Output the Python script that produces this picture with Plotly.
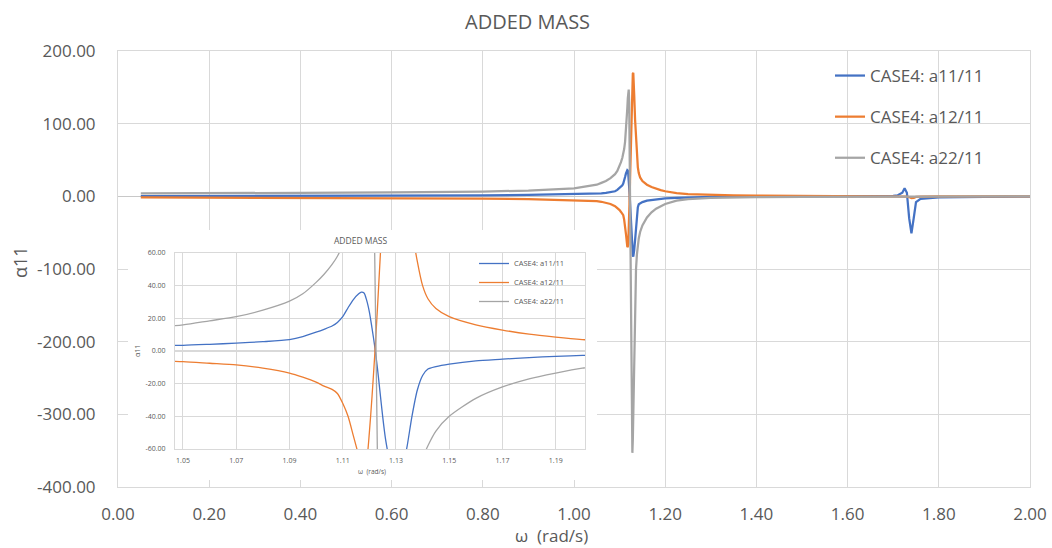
import plotly.graph_objects as go

# Frequency grid (rad/s) and the three added-mass ratios sampled on it
omega = [0.05, 0.20, 0.40, 0.60, 0.80, 0.90, 1.00, 1.03, 1.05, 1.06, 1.07, 1.08,
         1.09, 1.095, 1.10, 1.103, 1.106, 1.108, 1.110, 1.112, 1.114, 1.116,
         1.117, 1.118, 1.119, 1.120, 1.121, 1.122, 1.123, 1.124, 1.125, 1.126,
         1.127, 1.128, 1.129, 1.130, 1.131, 1.132, 1.134, 1.136, 1.138, 1.140,
         1.142, 1.145, 1.150, 1.160, 1.170, 1.180, 1.190, 1.200, 1.225, 1.25,
         1.30, 1.35, 1.40, 1.50, 1.60, 1.65, 1.70, 1.71, 1.72, 1.725, 1.73,
         1.735, 1.74, 1.745, 1.75, 1.76, 1.78, 1.80, 1.90, 2.00]

a11 = [0.3, 0.4, 0.6, 0.9, 1.4, 2.0, 2.7, 3.2, 3.5, 4.1, 4.8, 5.7,
       7.0, 8.8, 11.5, 13.3, 15.3, 17.5, 21.0, 26.5, 31.5, 35.0,
       36.0, 35.5, 31.0, 24.0, 14.0, 3.0, -10.0, -25.0, -40.0, -53.0,
       -63.0, -74.0, -81.0, -83.0, -80.0, -74.0, -60.0, -40.0, -24.0, -15.0,
       -11.0, -9.5, -8.0, -6.0, -5.0, -4.0, -3.3, -2.7, -2.0, -1.4,
       -0.8, -0.5, -0.4, -0.3, -0.3, -0.2, 0.5, 1.5, 5.0, 11.0, 5.0,
       -30.0, -51.0, -30.0, -8.0, -3.5, -2.0, -1.4, -0.7, -0.4]

a12 = [-1.5, -1.6, -1.8, -2.2, -3.0, -4.0, -5.0, -5.8, -6.5, -7.5, -8.5, -10.5,
       -13.5, -16.0, -19.0, -21.5, -23.5, -26.0, -32.0, -40.0, -52.0, -64.0,
       -70.0, -69.0, -66.0, -50.0, -28.0, -3.0, 25.0, 55.0, 85.0, 115.0,
       140.0, 160.0, 169.0, 170.0, 160.0, 140.0, 105.0, 75.0, 55.0, 40.0,
       32.0, 26.0, 21.0, 16.0, 12.8, 10.3, 8.5, 7.0, 4.5, 3.2,
       2.0, 1.4, 1.0, 0.6, 0.4, 0.3, 0.2, 0.2, 0.1, 0.0, -0.3,
       -1.0, -2.5, -2.0, -0.8, -0.3, -0.1, 0.0, 0.0, 0.0]

a22 = [4.0, 4.2, 4.6, 5.3, 6.5, 8.0, 11.0, 13.5, 16.0, 18.5, 21.0, 25.0,
       30.5, 35.0, 42.0, 47.0, 53.0, 58.0, 65.0, 75.0, 90.0, 110.0,
       122.0, 135.0, 145.0, 147.0, 130.0, 60.0, -60.0, -150.0, -250.0, -320.0,
       -345.0, -353.0, -335.0, -295.0, -245.0, -200.0, -140.0, -100.0, -80.0, -66.0,
       -58.0, -49.0, -40.0, -29.0, -22.0, -17.0, -13.5, -10.5, -6.0, -4.0,
       -2.2, -1.5, -1.0, -0.6, -0.4, -0.3, -0.3, -0.3, -0.3, -0.3, -0.3,
       -0.3, -0.3, -0.3, -0.3, -0.2, -0.2, -0.2, -0.1, -0.1]

names = ["CASE4: a11/11", "CASE4: a12/11", "CASE4: a22/11"]
colors = ["#4472C4", "#ED7D31", "#A5A5A5"]
series = [a11, a12, a22]

# Axis ticks (main chart and zoomed view)
main_x_ticks = [0.0, 0.2, 0.4, 0.6, 0.8, 1.0, 1.2, 1.4, 1.6, 1.8, 2.0]
main_y_ticks = [-400, -300, -200, -100, 0, 100, 200]
zoom_x_ticks = [1.05, 1.07, 1.09, 1.11, 1.13, 1.15, 1.17, 1.19]
zoom_y_ticks = [-60, -40, -20, 0, 20, 40, 60]


def fmt(values):
    return [f"{v:.2f}" for v in values]


W, H = 1052, 548
FONT = "Open Sans"
TXT = "#595959"
GRID = "#d9d9d9"


def px_x(p):
    return p / W


def px_y(p):
    return 1 - p / H


fig = go.Figure()

# Main chart traces
for name, col, ys in zip(names, colors, series):
    fig.add_trace(go.Scatter(
        x=omega, y=ys, mode="lines", name=name,
        line=dict(color=col, width=2.25),
        legendgroup=name, legend="legend",
        xaxis="x", yaxis="y",
    ))

# Placeholder subplot that carries the white backing panel of the zoomed view
fig.add_trace(go.Scatter(x=[None], y=[None], xaxis="x2", yaxis="y2",
                         showlegend=False, hoverinfo="skip"))

# Zoomed view around the resonance
for name, col, ys in zip(names, colors, series):
    fig.add_trace(go.Scatter(
        x=omega, y=ys, mode="lines", name=name,
        line=dict(color=col, width=1.3, shape="spline", smoothing=0.7),
        legend="legend2",
        xaxis="x3", yaxis="y3",
    ))

fig.add_shape(type="rect", xref="x2", yref="y2", x0=0, x1=1, y0=0, y1=1,
              fillcolor="white", line=dict(width=0), layer="below")

fig.update_layout(
    width=W, height=H,
    margin=dict(l=0, r=0, t=0, b=0, pad=0, autoexpand=False),
    paper_bgcolor="white", plot_bgcolor="white",
    font=dict(family=FONT, color=TXT),
    showlegend=True,
    xaxis=dict(
        domain=[px_x(118), px_x(1030)], range=[0, 2],
        tickvals=main_x_ticks, ticktext=fmt(main_x_ticks),
        showgrid=True, gridcolor=GRID, gridwidth=1,
        zeroline=False, showline=True, linecolor=GRID, mirror=True,
        tickfont=dict(size=17, color=TXT), ticks="", ticklabelstandoff=12,
        anchor="y", automargin=False,
    ),
    yaxis=dict(
        domain=[px_y(487), px_y(51)], range=[-400, 200],
        tickvals=main_y_ticks, ticktext=fmt(main_y_ticks),
        showgrid=True, gridcolor=GRID, gridwidth=1,
        zeroline=True, zerolinecolor="#c8c8c8", zerolinewidth=1.3,
        showline=True, linecolor=GRID, mirror=True,
        tickfont=dict(size=17, color=TXT), ticks="", ticklabelstandoff=18,
        anchor="x", automargin=False,
    ),
    xaxis2=dict(domain=[px_x(128), px_x(597)], range=[0, 1], visible=False,
                anchor="y2", automargin=False),
    yaxis2=dict(domain=[px_y(480), px_y(230)], range=[0, 1], visible=False,
                anchor="x2", automargin=False),
    xaxis3=dict(
        domain=[px_x(175), px_x(585)], range=[1.047, 1.201],
        tickvals=zoom_x_ticks, ticktext=fmt(zoom_x_ticks),
        showgrid=True, gridcolor=GRID,
        zeroline=False, showline=True, linecolor=GRID, mirror=True,
        tickfont=dict(size=7, color=TXT), ticks="", ticklabelstandoff=5,
        anchor="y3", automargin=False,
    ),
    yaxis3=dict(
        domain=[px_y(449), px_y(253)], range=[-60, 60],
        tickvals=zoom_y_ticks, ticktext=fmt(zoom_y_ticks),
        showgrid=True, gridcolor=GRID,
        zeroline=True, zerolinecolor=GRID, showline=True, linecolor=GRID,
        mirror=True, tickfont=dict(size=7, color=TXT), ticks="",
        ticklabelstandoff=7, anchor="x3", automargin=False,
    ),
    legend=dict(
        x=px_x(830), y=px_y(58), xanchor="left", yanchor="top",
        bgcolor="rgba(0,0,0,0)", font=dict(size=17, color=TXT),
        tracegroupgap=16, itemwidth=30,
    ),
    legend2=dict(
        x=px_x(474), y=px_y(249), xanchor="left", yanchor="top",
        bgcolor="rgba(0,0,0,0)", font=dict(size=7.5, color=TXT),
        tracegroupgap=0, itemwidth=30,
    ),
)

annotations = [
    dict(text="ADDED MASS", x=px_x(527), y=px_y(21), font=dict(size=20)),
    dict(text="ω  (rad/s)", x=px_x(551), y=px_y(535), font=dict(size=17)),
    dict(text="α11", x=px_x(20), y=px_y(262), textangle=-90, font=dict(size=18)),
    dict(text="ADDED MASS", x=px_x(360), y=px_y(240), font=dict(size=8.5)),
    dict(text="ω  (rad/s)", x=px_x(372), y=px_y(472), font=dict(size=6.5)),
    dict(text="α11", x=px_x(137), y=px_y(351), textangle=-90, font=dict(size=7)),
]
for a in annotations:
    fig.add_annotation(xref="paper", yref="paper", showarrow=False,
                       xanchor="center", yanchor="middle",
                       font_color=TXT, **a)

fig.write_html("out.html")
